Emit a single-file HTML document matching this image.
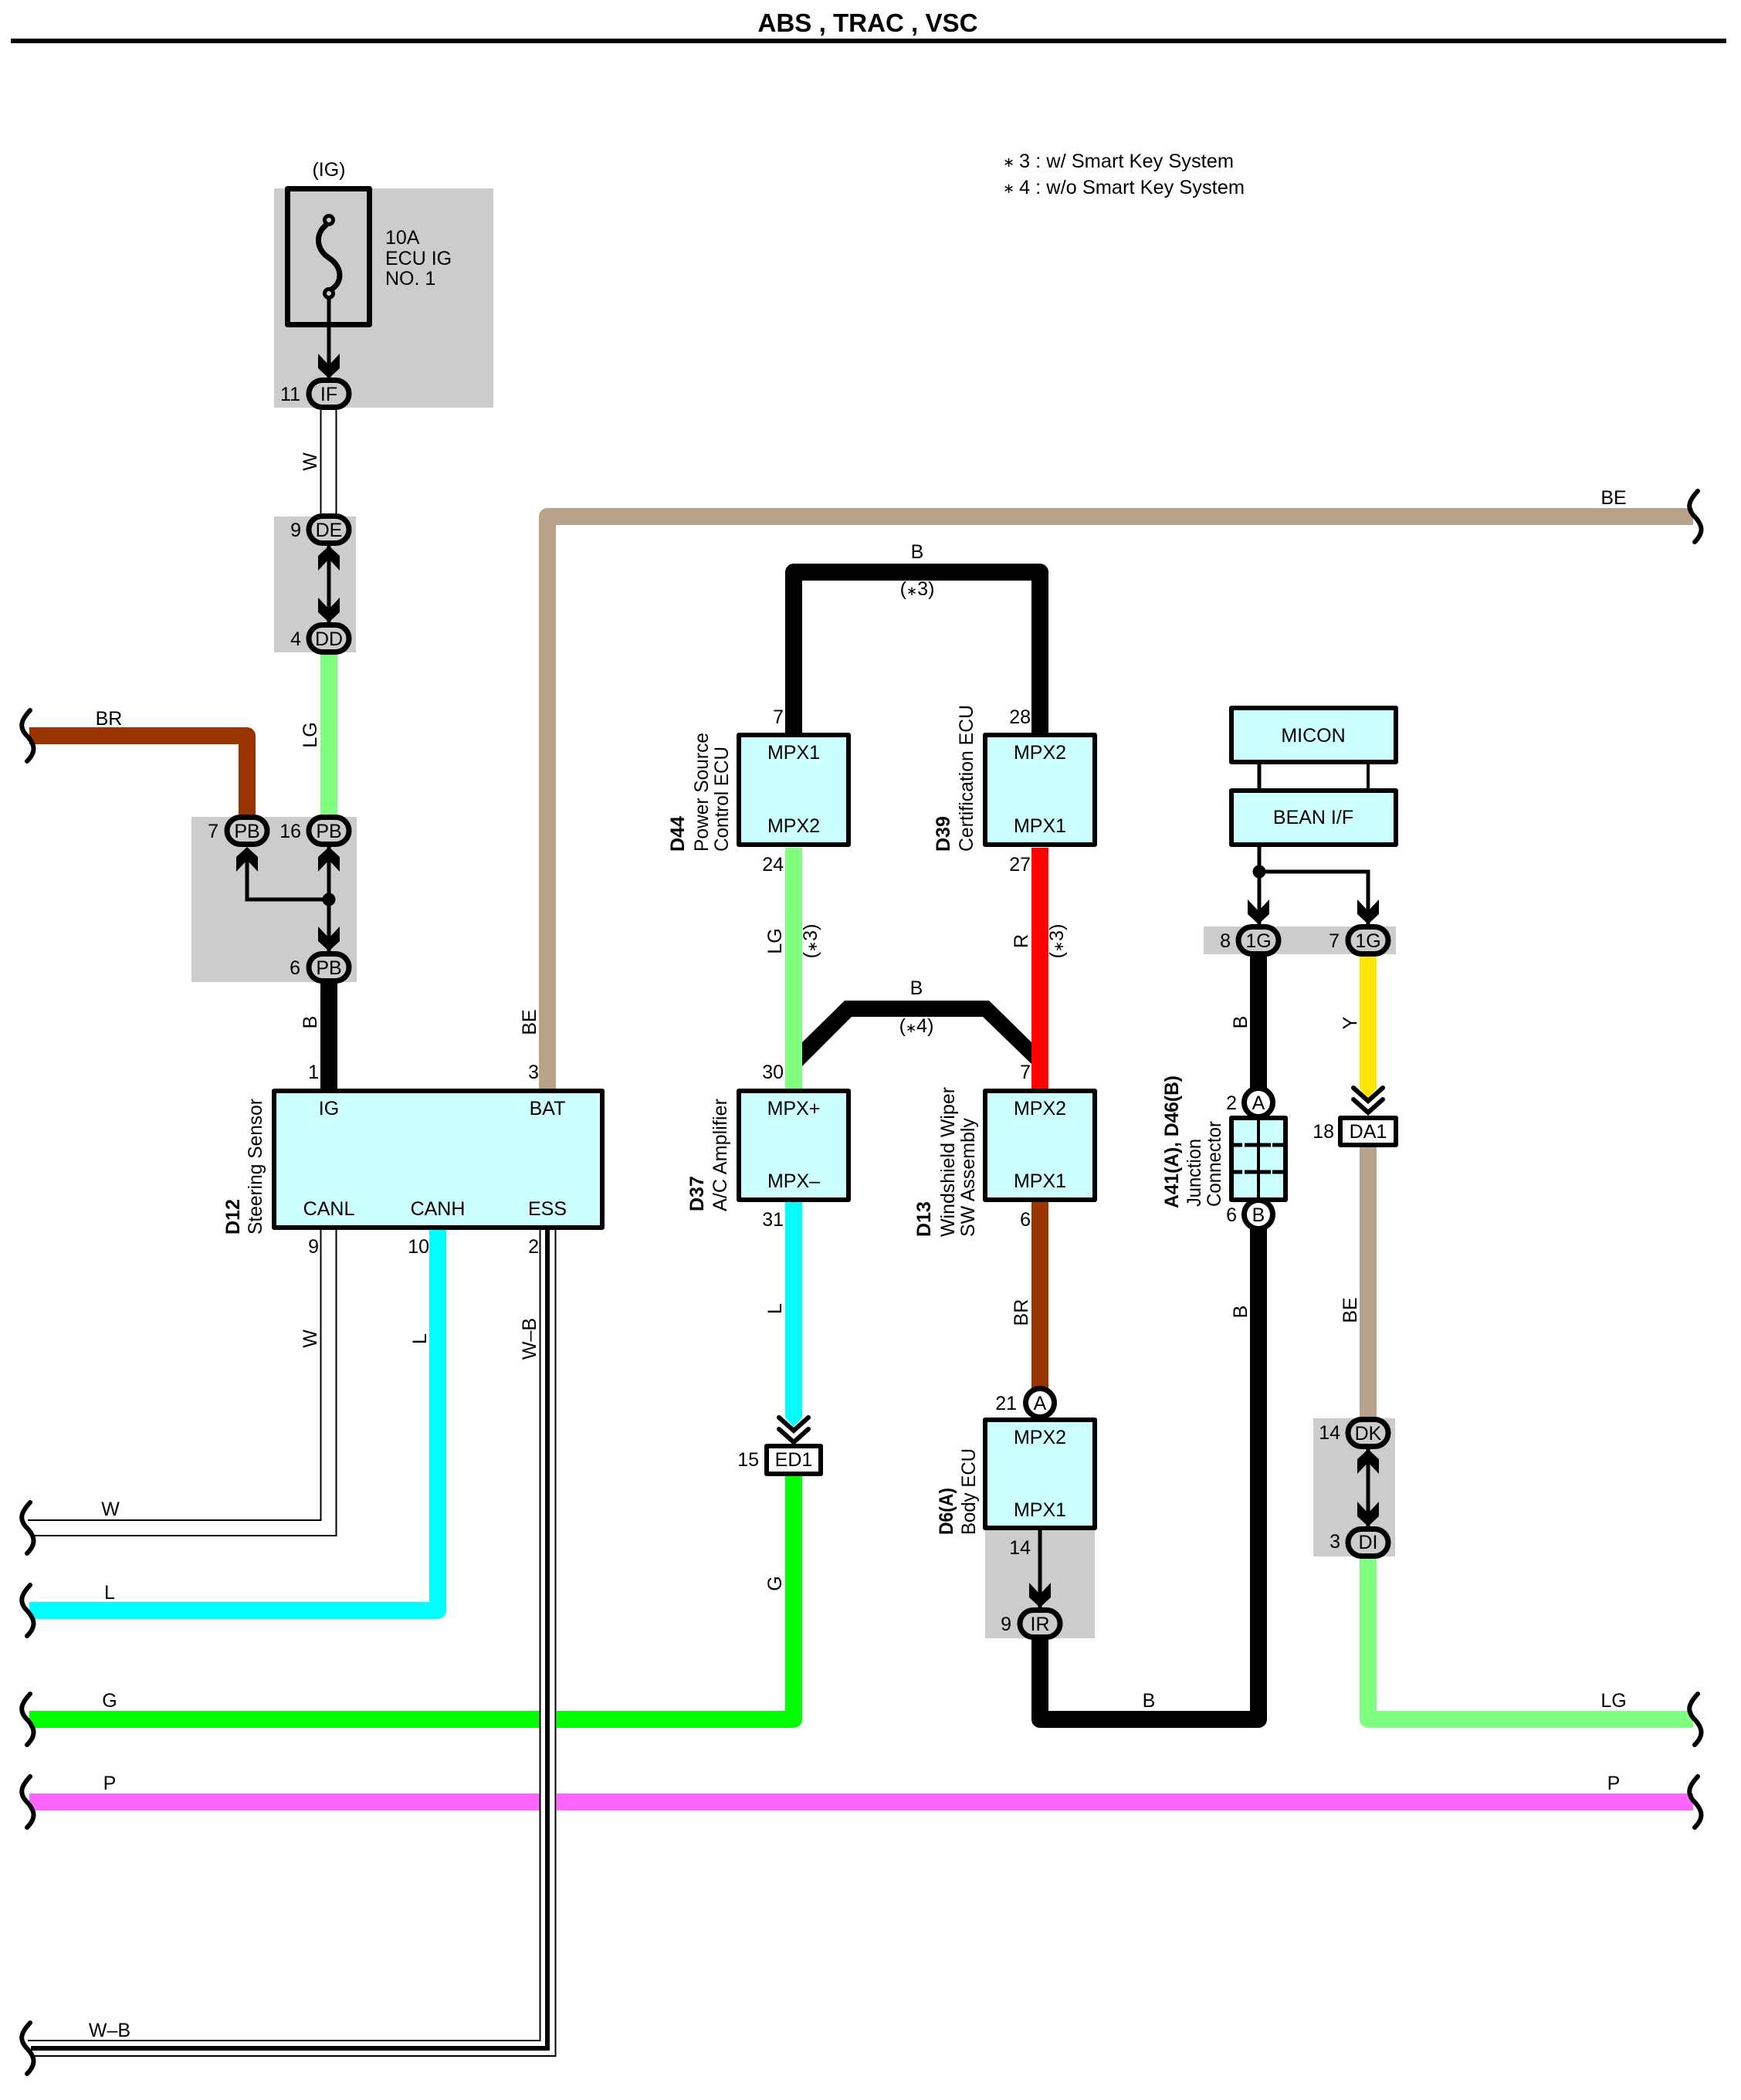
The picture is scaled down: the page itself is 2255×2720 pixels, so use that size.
<!DOCTYPE html>
<html><head><meta charset="utf-8"><title>ABS, TRAC, VSC</title>
<style>
html,body{margin:0;padding:0;background:#fff}
svg{display:block}
text{font-family:"Liberation Sans",sans-serif;font-size:25px;fill:#000}
.b{font-weight:bold}
.m{text-anchor:middle}
.e{text-anchor:end}
.w{fill:none;stroke-width:22;stroke-linejoin:round}
.t{fill:none;stroke:#000;stroke-width:2}
.l{fill:none;stroke:#000;stroke-width:5}
.box{fill:#ccffff;stroke:#000;stroke-width:6;stroke-linejoin:round}
.p{fill:#ccc;stroke:#000;stroke-width:7}
.c{fill:#fff;stroke:#000;stroke-width:7}
.g{fill:#ccc}
.s{font-size:17px}
</style></head><body>
<svg width="2255" height="2720" viewBox="0 0 2255 2720" xmlns="http://www.w3.org/2000/svg">
<defs>
<polygon id="ad" points="-14,-32 0,-17 14,-32 14,-13 0,0 -14,-13" fill="#000"/>
<polygon id="au" points="-14,32 0,17 14,32 14,13 0,0 -14,13" fill="#000"/>
<path id="wv" d="M39,-33 C27,-20 25,-12 33,-2 C45,10 48,20 35,33" fill="none" stroke="#000" stroke-width="6" stroke-linecap="round"/>
<rect id="pl" x="-26" y="-17.5" width="52" height="35" rx="17.5" class="p"/>
<path id="cv" d="M-19,-17 L0,0 L19,-17 M-19,-2 L0,15 L19,-2" fill="none" stroke="#000" stroke-width="6" stroke-linecap="round"/>
</defs>
<rect width="2255" height="2720" fill="#fff"/>

<!-- title -->
<text x="1124" y="41" class="b m" style="font-size:33px" textLength="285" lengthAdjust="spacingAndGlyphs">ABS , TRAC , VSC</text>
<rect x="14" y="50" width="2222" height="6" fill="#000"/>

<!-- legend -->
<text x="1299" y="216" style="font-size:18px">∗</text>
<text x="1320" y="217" textLength="278" lengthAdjust="spacingAndGlyphs">3 : w/ Smart Key System</text>
<text x="1299" y="250" style="font-size:18px">∗</text>
<text x="1320" y="251" textLength="292" lengthAdjust="spacingAndGlyphs">4 : w/o Smart Key System</text>

<!-- grey areas -->
<rect class="g" x="355" y="244" width="284" height="284"/>
<rect class="g" x="355" y="669" width="106" height="176"/>
<rect class="g" x="248" y="1058" width="214" height="214"/>
<rect class="g" x="1559" y="1200" width="249" height="36"/>
<rect class="g" x="1701" y="1837" width="106" height="179"/>
<rect class="g" x="1276" y="1982" width="142" height="140"/>

<!-- thick wires -->
<path class="w" stroke="#993300" d="M38,953 H320 V1058"/>
<path class="w" stroke="#80ff80" d="M426,844 V1058"/>
<path class="w" stroke="#000" d="M426,1272 V1410"/>
<path class="w" stroke="#b8a28c" d="M709,1410 V669 H2193"/>
<path class="w" stroke="#00ffff" d="M567,1593 V2086 H38"/>
<path class="w" stroke="#00ff00" d="M1028,1911 V2227 H38"/>
<path class="w" stroke="#ff66ff" d="M38,2334 H2193"/>
<rect x="699" y="2210" width="22" height="140" fill="#fff"/>
<path class="w" stroke="#000" d="M1028,952 V741 H1347 V952"/>
<path class="w" stroke="#80ff80" d="M1028,1098 V1410"/>
<path class="w" stroke="#ff0000" d="M1347,1098 V1410"/>
<polygon points="1039,1350 1094,1296 1281,1296 1336,1350 1336,1378 1273,1317 1103,1317 1039,1381" fill="#000"/>
<path class="w" stroke="#00ffff" d="M1028,1557 V1836"/>
<polygon points="1017,1836 1039,1836 1028,1848" fill="#00ffff"/>
<path class="w" stroke="#993300" d="M1347,1557 V1800"/>
<path class="w" stroke="#000" d="M1347,2122 V2227 H1630 V1236"/>
<path class="w" stroke="#ffe600" d="M1772,1236 V1410"/>
<polygon points="1761,1410 1783,1410 1772,1423" fill="#ffe600"/>
<path class="w" stroke="#b8a28c" d="M1772,1486 V1840"/>
<path class="w" stroke="#80ff80" d="M1772,2016 V2227 H2193"/>

<!-- thin double wires -->
<rect x="416" y="531" width="19" height="136" fill="#fff"/>
<path class="t" d="M415.5,531 V665 M435.5,531 V665"/>
<path class="t" d="M415.5,1593 V1969 H36 M435.5,1593 V1989 H44"/>
<path class="t" d="M699.5,1593 V2643 H36 M719.5,1593 V2663 H44"/>
<path d="M709,1593 V2653 H40" fill="none" stroke="#000" stroke-width="6"/>

<!-- wave ends -->
<use href="#wv" x="0" y="953"/>
<use href="#wv" x="0" y="1979"/>
<use href="#wv" x="0" y="2086"/>
<use href="#wv" x="0" y="2227"/>
<use href="#wv" x="0" y="2334"/>
<use href="#wv" x="0" y="2653"/>
<use href="#wv" x="2160" y="669"/>
<use href="#wv" x="2160" y="2227"/>
<use href="#wv" x="2160" y="2334"/>

<!-- fuse -->
<rect x="372.5" y="244.5" width="106" height="176" fill="none" stroke="#000" stroke-width="7" stroke-linejoin="round"/>
<path d="M423,291 C408,302 409,323 426,334 C443,345 445,365 429,375" fill="none" stroke="#000" stroke-width="7"/>
<circle cx="426" cy="285" r="5.5" fill="#ccc" stroke="#000" stroke-width="5"/>
<circle cx="426" cy="380" r="5.5" fill="#ccc" stroke="#000" stroke-width="5"/>
<path class="l" d="M426,386 V490"/>
<use href="#ad" x="426" y="490"/>

<!-- thin lines + arrows -->
<path class="l" d="M426,707 V806"/>
<use href="#au" x="426" y="707"/>
<use href="#ad" x="426" y="806"/>
<path class="l" d="M426,1097 V1232 M426,1165 H320 V1100"/>
<circle cx="426" cy="1165" r="8.5" fill="#000"/>
<use href="#au" x="320" y="1097"/>
<use href="#au" x="426" y="1097"/>
<use href="#ad" x="426" y="1232"/>
<path class="l" d="M1347,1982 V2082"/>
<use href="#ad" x="1347" y="2082"/>
<path class="l" d="M1631,990 V1021"/>
<path class="l" style="stroke-width:4" d="M1772,990 V1021"/>
<path class="l" d="M1631,1097 V1197 M1631,1129 H1772 V1197"/>
<circle cx="1631" cy="1129" r="8.5" fill="#000"/>
<use href="#ad" x="1630" y="1197"/>
<use href="#ad" x="1772" y="1197"/>
<path class="l" d="M1772,1877 V1977"/>
<use href="#au" x="1772" y="1877"/>
<use href="#ad" x="1772" y="1977"/>

<!-- chevrons -->
<use href="#cv" x="1772" y="1426"/>
<use href="#cv" x="1028" y="1853"/>

<!-- boxes -->
<rect class="box" x="355" y="1413" width="425" height="177"/>
<rect class="box" x="957" y="952" width="142" height="142"/>
<rect class="box" x="1276" y="952" width="142" height="142"/>
<rect class="box" x="957" y="1413" width="142" height="141"/>
<rect class="box" x="1276" y="1413" width="142" height="141"/>
<rect class="box" x="1276" y="1839" width="142" height="140"/>
<rect class="box" x="1595" y="917" width="213" height="70"/>
<rect class="box" x="1595" y="1024" width="213" height="70"/>
<rect x="1736" y="1448" width="72" height="35" fill="#fff" stroke="#000" stroke-width="6" stroke-linejoin="round"/>
<rect x="993" y="1873" width="70" height="36" fill="#fff" stroke="#000" stroke-width="6" stroke-linejoin="round"/>
<rect class="box" x="1595" y="1448" width="70" height="106"/>
<path d="M1630,1448 V1554" stroke="#000" stroke-width="4" fill="none"/>
<path d="M1595,1483 H1665 M1595,1518 H1665" stroke="#000" stroke-width="5" stroke-dasharray="14 3 34 2 22" fill="none"/>

<!-- connectors -->
<use href="#pl" x="426" y="510"/>
<use href="#pl" x="426" y="686"/>
<use href="#pl" x="426" y="827"/>
<use href="#pl" x="320" y="1076"/>
<use href="#pl" x="426" y="1076"/>
<use href="#pl" x="426" y="1253"/>
<use href="#pl" x="1630" y="1218"/>
<use href="#pl" x="1772" y="1218"/>
<use href="#pl" x="1772" y="1856"/>
<use href="#pl" x="1772" y="1998"/>
<use href="#pl" x="1347" y="2103"/>
<circle class="c" cx="1630" cy="1428" r="18.5"/>
<circle class="c" cx="1630" cy="1573" r="18.5"/>
<circle class="c" cx="1347" cy="1817" r="18.5"/>

<!-- connector text -->
<text class="m" x="426" y="519">IF</text>
<text class="m" x="426" y="695">DE</text>
<text class="m" x="426" y="836">DD</text>
<text class="m" x="320" y="1085">PB</text>
<text class="m" x="426" y="1085">PB</text>
<text class="m" x="426" y="1262">PB</text>
<text class="m" x="1630" y="1227">1G</text>
<text class="m" x="1772" y="1227">1G</text>
<text class="m" x="1772" y="1865">DK</text>
<text class="m" x="1772" y="2006">DI</text>
<text class="m" x="1347" y="2112">IR</text>
<text class="m" x="1630" y="1437">A</text>
<text class="m" x="1630" y="1582">B</text>
<text class="m" x="1347" y="1826">A</text>
<text class="m" x="1772" y="1474">DA1</text>
<text class="m" x="1028" y="1899">ED1</text>

<!-- pin numbers -->
<text class="e" x="389" y="519">11</text>
<text class="e" x="390" y="695">9</text>
<text class="e" x="390" y="836">4</text>
<text class="e" x="283" y="1085">7</text>
<text class="e" x="390" y="1085">16</text>
<text class="e" x="389" y="1262">6</text>
<text class="e" x="413" y="1397">1</text>
<text class="e" x="698" y="1397">3</text>
<text class="e" x="413" y="1623">9</text>
<text class="e" x="556" y="1623">10</text>
<text class="e" x="698" y="1623">2</text>
<text class="e" x="1015" y="937">7</text>
<text class="e" x="1335" y="937">28</text>
<text class="e" x="1015" y="1128">24</text>
<text class="e" x="1335" y="1128">27</text>
<text class="e" x="1015" y="1397">30</text>
<text class="e" x="1335" y="1397">7</text>
<text class="e" x="1015" y="1588">31</text>
<text class="e" x="1335" y="1588">6</text>
<text class="e" x="983" y="1899">15</text>
<text class="e" x="1317" y="1826">21</text>
<text class="e" x="1335" y="2013">14</text>
<text class="e" x="1310" y="2112">9</text>
<text class="e" x="1594" y="1227">8</text>
<text class="e" x="1735" y="1227">7</text>
<text class="e" x="1602" y="1437">2</text>
<text class="e" x="1602" y="1582">6</text>
<text class="e" x="1728" y="1474">18</text>
<text class="e" x="1736" y="1864">14</text>
<text class="e" x="1736" y="2005">3</text>

<!-- box text -->
<text class="m" x="426" y="1444">IG</text>
<text class="m" x="709" y="1444">BAT</text>
<text class="m" x="426" y="1574">CANL</text>
<text class="m" x="567" y="1574">CANH</text>
<text class="m" x="709" y="1574">ESS</text>
<text class="m" x="1028" y="983">MPX1</text>
<text class="m" x="1028" y="1078">MPX2</text>
<text class="m" x="1347" y="983">MPX2</text>
<text class="m" x="1347" y="1078">MPX1</text>
<text class="m" x="1028" y="1444">MPX+</text>
<text class="m" x="1028" y="1538">MPX–</text>
<text class="m" x="1347" y="1444">MPX2</text>
<text class="m" x="1347" y="1538">MPX1</text>
<text class="m" x="1347" y="1870">MPX2</text>
<text class="m" x="1347" y="1964">MPX1</text>
<text class="m" x="1701" y="961">MICON</text>
<text class="m" x="1701" y="1067">BEAN I/F</text>

<!-- misc text -->
<text class="m" x="426" y="228">(IG)</text>
<text x="499" y="316">10A</text>
<text x="499" y="343">ECU IG</text>
<text x="499" y="369">NO. 1</text>

<!-- horizontal wire labels -->
<text class="m" x="141" y="939">BR</text>
<text class="m" x="143" y="1963">W</text>
<text class="m" x="142" y="2071">L</text>
<text class="m" x="142" y="2211">G</text>
<text class="m" x="142" y="2318">P</text>
<text class="m" x="142" y="2638">W–B</text>
<text class="m" x="2090" y="653">BE</text>
<text class="m" x="2090" y="2211">LG</text>
<text class="m" x="2090" y="2318">P</text>
<text class="m" x="1188" y="723">B</text>
<text class="m" x="1188" y="771">(<tspan class="s">∗</tspan>3)</text>
<text class="m" x="1187" y="1288">B</text>
<text class="m" x="1187" y="1337">(<tspan class="s">∗</tspan>4)</text>
<text class="m" x="1488" y="2211">B</text>

<!-- vertical wire labels -->
<text class="m" transform="translate(410,598) rotate(-90)">W</text>
<text class="m" transform="translate(410,952) rotate(-90)">LG</text>
<text class="m" transform="translate(410,1324) rotate(-90)">B</text>
<text class="m" transform="translate(694,1324) rotate(-90)">BE</text>
<text class="m" transform="translate(410,1734) rotate(-90)">W</text>
<text class="m" transform="translate(552,1734) rotate(-90)">L</text>
<text class="m" transform="translate(694,1734) rotate(-90)">W–B</text>
<text class="m" transform="translate(1012,1219) rotate(-90)">LG</text>
<text class="m" transform="translate(1058,1219) rotate(-90)">(<tspan class="s">∗</tspan>3)</text>
<text class="m" transform="translate(1331,1219) rotate(-90)">R</text>
<text class="m" transform="translate(1377,1219) rotate(-90)">(<tspan class="s">∗</tspan>3)</text>
<text class="m" transform="translate(1012,1695) rotate(-90)">L</text>
<text class="m" transform="translate(1012,2051) rotate(-90)">G</text>
<text class="m" transform="translate(1331,1700) rotate(-90)">BR</text>
<text class="m" transform="translate(1615,1324) rotate(-90)">B</text>
<text class="m" transform="translate(1757,1325) rotate(-90)">Y</text>
<text class="m" transform="translate(1615,1699) rotate(-90)">B</text>
<text class="m" transform="translate(1757,1697) rotate(-90)">BE</text>

<!-- component names -->
<text class="b" transform="translate(310,1599) rotate(-90)">D12</text>
<text transform="translate(339,1599) rotate(-90)" textLength="176" lengthAdjust="spacingAndGlyphs">Steering Sensor</text>
<text class="b" transform="translate(886,1103) rotate(-90)">D44</text>
<text transform="translate(917,1103) rotate(-90)" textLength="154" lengthAdjust="spacingAndGlyphs">Power Source</text>
<text transform="translate(943,1103) rotate(-90)" textLength="136" lengthAdjust="spacingAndGlyphs">Control ECU</text>
<text class="b" transform="translate(1230,1103) rotate(-90)">D39</text>
<text transform="translate(1260,1103) rotate(-90)" textLength="190" lengthAdjust="spacingAndGlyphs">Certification ECU</text>
<text class="b" transform="translate(911,1569) rotate(-90)">D37</text>
<text transform="translate(941,1569) rotate(-90)" textLength="146" lengthAdjust="spacingAndGlyphs">A/C Amplifier</text>
<text class="b" transform="translate(1205,1602) rotate(-90)">D13</text>
<text transform="translate(1236,1602) rotate(-90)" textLength="194" lengthAdjust="spacingAndGlyphs">Windshield Wiper</text>
<text transform="translate(1262,1602) rotate(-90)" textLength="154" lengthAdjust="spacingAndGlyphs">SW Assembly</text>
<text class="b" transform="translate(1234,1988) rotate(-90)" textLength="61" lengthAdjust="spacingAndGlyphs">D6(A)</text>
<text transform="translate(1263,1988) rotate(-90)" textLength="112" lengthAdjust="spacingAndGlyphs">Body ECU</text>
<text class="b" transform="translate(1526,1565) rotate(-90)" textLength="172" lengthAdjust="spacingAndGlyphs">A41(A), D46(B)</text>
<text transform="translate(1555,1563) rotate(-90)" textLength="88" lengthAdjust="spacingAndGlyphs">Junction</text>
<text transform="translate(1581,1563) rotate(-90)" textLength="111" lengthAdjust="spacingAndGlyphs">Connector</text>
</svg>
</body></html>
